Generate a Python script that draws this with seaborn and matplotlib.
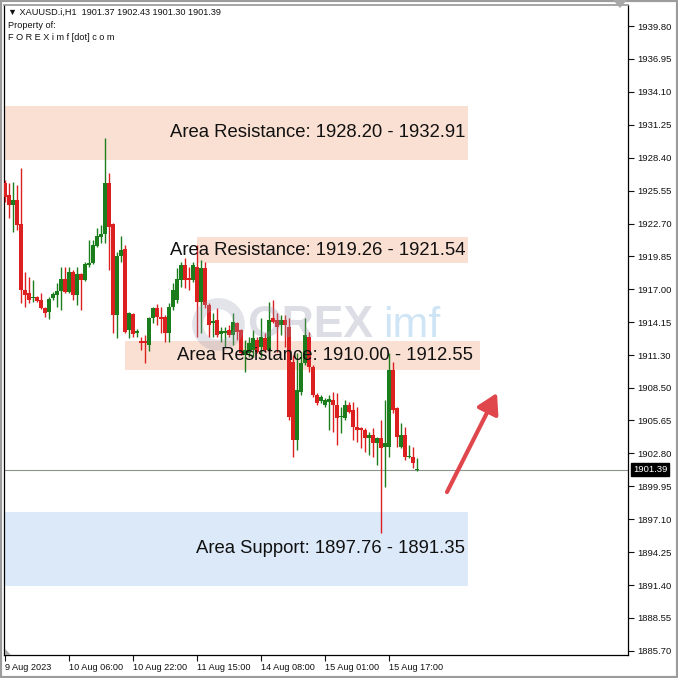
import matplotlib
matplotlib.use("Agg")
import matplotlib.pyplot as plt
from matplotlib.patches import Polygon, Rectangle
import numpy as np
import pandas as pd
import seaborn as sns


SYMBOL = "XAUUSD.i,H1"

# hourly candles, 9 Aug 14:00 -> 15 Aug 23:00
OPEN = [
    1926.21, 1925.17, 1924.30, 1924.74, 1922.66, 1916.94, 1916.68, 1916.25, 1916.34, 1916.08,
    1915.38, 1915.04, 1916.25, 1916.51, 1916.86, 1917.90, 1916.77, 1918.50, 1916.51, 1918.33,
    1917.81, 1919.11, 1919.28, 1920.75, 1921.53, 1921.79, 1926.21, 1922.66, 1914.78, 1919.89,
    1920.49, 1913.48, 1914.87, 1913.22, 1912.53, 1912.53, 1912.18, 1914.52, 1915.38, 1914.61,
    1914.61, 1913.22, 1915.47, 1916.08, 1917.81, 1919.11, 1917.98, 1917.81, 1918.93, 1915.90,
    1918.85, 1915.64, 1914.09, 1914.35, 1913.13, 1913.22, 1913.48, 1913.05, 1914.09, 1913.48,
    1911.32, 1911.49, 1911.75, 1912.61, 1912.01, 1912.79, 1911.75, 1914.52, 1914.35, 1913.91,
    1914.35, 1913.74, 1910.71, 1903.96, 1908.11, 1910.62, 1912.87, 1910.28, 1907.85, 1907.33,
    1906.99, 1907.25, 1907.42, 1906.99, 1905.95, 1905.86, 1906.99, 1906.55, 1905.08, 1905.00,
    1904.82, 1904.13, 1904.39, 1903.70, 1904.13, 1903.35, 1903.35, 1910.02, 1906.73, 1903.35,
    1904.39, 1902.48, 1902.48, 1901.37,
]
HIGH = [
    1926.47, 1926.21, 1926.29, 1926.03, 1927.51, 1918.50, 1918.07, 1917.81, 1916.40, 1916.68,
    1915.47, 1916.34, 1916.77, 1917.55, 1918.93, 1918.93, 1918.93, 1918.67, 1918.93, 1918.41,
    1919.37, 1921.27, 1921.27, 1922.31, 1922.57, 1930.10, 1927.07, 1922.74, 1920.23, 1921.62,
    1920.84, 1915.04, 1914.95, 1913.57, 1912.87, 1913.05, 1914.61, 1915.47, 1915.73, 1915.47,
    1914.78, 1915.82, 1917.55, 1918.85, 1919.37, 1919.71, 1918.93, 1919.37, 1920.84, 1919.54,
    1919.37, 1915.82, 1914.95, 1915.38, 1913.74, 1913.74, 1913.91, 1914.95, 1914.17, 1913.57,
    1912.61, 1912.87, 1913.48, 1912.87, 1914.52, 1913.22, 1915.90, 1916.08, 1914.95, 1914.78,
    1914.78, 1914.52, 1911.32, 1911.49, 1911.58, 1914.52, 1913.31, 1910.45, 1908.03, 1907.85,
    1907.59, 1907.85, 1908.11, 1908.03, 1906.81, 1907.42, 1907.25, 1907.25, 1906.81, 1905.08,
    1905.00, 1904.65, 1905.00, 1904.22, 1905.69, 1907.42, 1911.49, 1910.71, 1906.81, 1905.43,
    1905.08, 1903.52, 1903.35, 1902.43,
]
LOW = [
    1924.56, 1923.18, 1921.96, 1922.14, 1915.82, 1915.47, 1915.82, 1915.90, 1915.90, 1915.30,
    1914.61, 1914.43, 1916.08, 1915.47, 1915.21, 1916.70, 1916.68, 1916.08, 1915.64, 1915.21,
    1917.75, 1918.93, 1919.20, 1920.67, 1921.01, 1921.01, 1918.67, 1913.22, 1912.79, 1919.37,
    1913.22, 1912.79, 1912.87, 1912.87, 1911.75, 1910.62, 1911.66, 1914.09, 1913.91, 1913.22,
    1912.44, 1912.44, 1915.21, 1915.82, 1917.20, 1917.12, 1916.94, 1917.64, 1912.87, 1913.22,
    1915.38, 1912.87, 1912.87, 1912.87, 1912.44, 1912.01, 1912.87, 1912.18, 1912.61, 1911.32,
    1909.84, 1911.14, 1911.14, 1911.49, 1911.14, 1911.58, 1911.70, 1914.09, 1911.58, 1913.05,
    1912.01, 1905.69, 1902.48, 1903.09, 1907.85, 1910.45, 1909.84, 1907.68, 1906.99, 1907.16,
    1906.81, 1904.82, 1904.65, 1903.52, 1904.56, 1905.69, 1906.29, 1903.96, 1903.78, 1903.26,
    1902.92, 1902.66, 1902.48, 1901.79, 1895.90, 1899.89, 1902.48, 1906.29, 1903.35, 1903.26,
    1902.22, 1902.40, 1901.53, 1901.30,
]
CLOSE = [
    1925.00, 1924.30, 1924.74, 1922.57, 1916.94, 1916.51, 1916.08, 1916.34, 1915.99, 1915.38,
    1914.95, 1916.16, 1916.60, 1916.86, 1917.90, 1916.77, 1918.50, 1916.51, 1918.33, 1917.81,
    1919.19, 1919.28, 1920.84, 1921.62, 1921.79, 1926.21, 1922.40, 1914.78, 1919.89, 1920.41,
    1913.31, 1914.95, 1913.13, 1913.39, 1912.35, 1912.35, 1914.52, 1915.38, 1914.61, 1914.43,
    1913.22, 1915.47, 1916.94, 1917.90, 1919.11, 1917.81, 1917.81, 1919.11, 1915.90, 1918.85,
    1915.64, 1913.91, 1914.26, 1913.05, 1913.39, 1913.39, 1913.05, 1914.17, 1913.31, 1911.49,
    1911.75, 1912.35, 1912.79, 1911.58, 1912.87, 1911.75, 1914.35, 1914.17, 1913.74, 1914.35,
    1913.91, 1905.95, 1903.96, 1908.29, 1910.62, 1913.05, 1910.28, 1907.85, 1907.16, 1907.68,
    1907.42, 1907.51, 1906.99, 1905.86, 1906.03, 1906.99, 1906.38, 1905.08, 1904.82, 1904.82,
    1904.13, 1904.39, 1903.70, 1904.13, 1903.26, 1903.70, 1910.02, 1906.55, 1904.22, 1904.39,
    1902.48, 1902.57, 1901.96, 1901.39,
]

TIME_LABELS = ["9 Aug 2023", "10 Aug 06:00", "10 Aug 22:00", "11 Aug 15:00",
               "14 Aug 08:00", "15 Aug 01:00", "15 Aug 17:00"]
BARS_PER_LABEL = 16

PRICE_TICKS = [1939.80, 1936.95, 1934.10, 1931.25, 1928.40, 1925.55, 1922.70, 1919.85,
               1917.00, 1914.15, 1911.30, 1908.50, 1905.65, 1902.80, 1899.95, 1897.10,
               1894.25, 1891.40, 1888.55, 1885.70]
LAST_PRICE = 1901.39

ZONE_NAMES = ["Area Resistance", "Area Resistance", "Area Resistance", "Area Support"]
ZONE_FROM = [1928.20, 1919.26, 1910.00, 1897.76]
ZONE_TO = [1932.91, 1921.54, 1912.55, 1891.35]

GREEN = "#1c7d1c"
RED = "#dc1f1f"
RES_COLOR = "#fae0d3"
SUP_COLOR = "#dbe9f8"


def setup_style():
    sns.set_theme(style="white")
    plt.rcParams["font.family"] = ["Liberation Sans", "DejaVu Sans"]
    plt.rcParams["figure.facecolor"] = "white"
    plt.rcParams["axes.facecolor"] = "white"


def draw_zones(ax):
    # x extent of each box in bars, and right edge of its caption
    spans = [(-1, 115.75), (48, 115.75), (30, 118.75), (-1, 115.75)]
    text_right = [115, 115, 117, 115]
    for i, name in enumerate(ZONE_NAMES):
        lo, hi = sorted([ZONE_FROM[i], ZONE_TO[i]])
        color = SUP_COLOR if "Support" in name else RES_COLOR
        ax.fill_between(spans[i], lo, hi, color=color, lw=0, zorder=0)
        ax.text(text_right[i], (lo + hi) / 2, f"{name}: {ZONE_FROM[i]:.2f} - {ZONE_TO[i]:.2f}",
                ha="right", va="center", fontsize=13.3, color="#111111", zorder=6)


def draw_candles(ax):
    df = pd.DataFrame({"open": OPEN, "high": HIGH, "low": LOW, "close": CLOSE})
    df["bar"] = np.arange(len(df))
    df["up"] = df["close"] >= df["open"]
    df["bottom"] = df[["open", "close"]].min(axis=1)
    df["body"] = (df["close"] - df["open"]).abs().clip(lower=0.1)

    for up, color in [(True, GREEN), (False, RED)]:
        part = df[df["up"] == up]
        ax.vlines(part["bar"], part["low"], part["high"], color=color, lw=1.0, zorder=3)
        ax.bar(part["bar"], part["body"], bottom=part["bottom"], width=0.8,
               color=color, lw=0, zorder=4)


def draw_watermark(ax):
    ax.plot([53.3], [1914.0], marker="o", ms=30, mfc="none", mec="#9a9ab4",
            mew=8, alpha=0.27, zorder=5)
    ax.text(60.5, 1912.9, "OREX", fontsize=32, fontweight="bold", color="#9090aa",
            alpha=0.3, ha="left", va="baseline", zorder=5)
    ax.text(94.5, 1912.9, "imf", fontsize=31, color="#6aaee0",
            alpha=0.32, ha="left", va="baseline", zorder=5)


def main():
    setup_style()

    fig = plt.figure(figsize=(6.78, 6.78), dpi=100)
    ax = fig.add_axes([4 / 678, 23 / 678, 624 / 678, 650 / 678])

    draw_zones(ax)
    ax.axhline(LAST_PRICE, color="#8a948a", lw=0.8, zorder=2)
    draw_candles(ax)
    draw_watermark(ax)

    ax.annotate("", xy=(123, 1908.03), xytext=(110.5, 1899.45),
                arrowprops=dict(arrowstyle="-|>,head_length=0.6,head_width=0.35",
                                color="#e0474c", lw=3, mutation_scale=20,
                                shrinkA=0, shrinkB=0, capstyle="round"),
                zorder=7)

    ax.set_xlim(-0.25, 155.75)
    ax.set_ylim(1885.34, 1941.62)

    ax.yaxis.tick_right()
    ax.set_yticks(PRICE_TICKS)
    ax.set_yticklabels([f"{v:.2f}" for v in PRICE_TICKS])
    ax.tick_params(axis="y", direction="out", length=4, width=0.8, pad=3,
                   labelsize=6.8, colors="#111111", right=True, left=False)

    ax.set_xticks(np.arange(len(TIME_LABELS)) * BARS_PER_LABEL)
    ax.set_xticklabels(TIME_LABELS)
    ax.tick_params(axis="x", direction="out", length=4, width=0.8, pad=2,
                   labelsize=6.6, colors="#111111", bottom=True)
    for lbl in ax.get_xticklabels():
        lbl.set_horizontalalignment("left")

    for side in ["left", "bottom", "right"]:
        ax.spines[side].set_color("black")
        ax.spines[side].set_linewidth(0.9)
    ax.spines["top"].set_color("#9a9a9a")
    ax.grid(False)

    ax.text(1.008, LAST_PRICE, f"{LAST_PRICE:.2f}", transform=ax.get_yaxis_transform(),
            ha="left", va="center", fontsize=6.8, color="white",
            bbox=dict(boxstyle="square,pad=0.2", fc="black", ec="black"), zorder=8)

    # header block
    fig.text(8 / 678, 1 - 12 / 678,
             f"\u25bc {SYMBOL}  {OPEN[-1]:.2f} {HIGH[-1]:.2f} {LOW[-1]:.2f} {CLOSE[-1]:.2f}",
             fontsize=6.6, va="center", ha="left", color="#111111")
    fig.text(8 / 678, 1 - 25 / 678, "Property of:", fontsize=6.6, va="center", color="#111111")
    fig.text(8 / 678, 1 - 37 / 678, "F O R E X i m f [dot] c o m", fontsize=6.6,
             va="center", color="#111111")

    # window frame and chart markers
    fig.patches.append(Rectangle((0, 0), 1, 1, transform=fig.transFigure, fill=False,
                                 ec="#9c9c9c", lw=3))
    fig.patches.append(Polygon([[613 / 678, 1], [627 / 678, 1], [620 / 678, 1 - 8 / 678]],
                               closed=True, transform=fig.transFigure, fc="#a8a8a8", ec="none"))
    fig.patches.append(Polygon([[5 / 678, 23 / 678], [11 / 678, 23 / 678], [5 / 678, 29 / 678]],
                               closed=True, transform=fig.transFigure, fc="#a8a8a8", ec="none"))

    fig.savefig("out.png", dpi=100)
    plt.close(fig)


if __name__ == "__main__":
    main()
